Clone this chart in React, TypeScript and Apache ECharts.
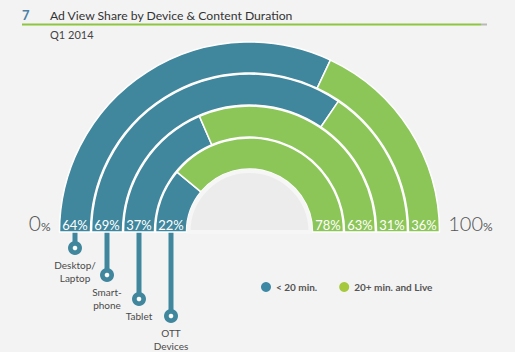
import React, { useEffect, useRef } from "react";
import * as echarts from "echarts";

// ---- data ----
const devices = ["Desktop/\nLaptop", "Smart-\nphone", "Tablet", "OTT\nDevices"];
const shortViews = [64, 69, 37, 22]; // < 20 min.
const longViews = [36, 31, 63, 78]; // 20+ min. and Live
const seriesNames = ["< 20 min.", "20+ min. and Live"];
const scaleEnds = ["0", "100"];
const titleNum = "7";
const titleText = "Ad View Share by Device & Content Duration";
const subtitle = "Q1 2014";

// ---- layout / style ----
const W = 515;
const H = 352;
const CX = 249.5;
const CY = 232;
const R_OUT = 190;
const RING_STEP = 32;
const RING_W = 31;
const MARKER_Y = [248, 275, 299, 316];
const BLUE = "#40879e";
const GREEN = "#8dc658";
const LEG_BLUE = "#3d89a5";
const LEG_GREEN = "#a6c83c";
const BG = "#f3f3f3";
const FONT = "Lato, 'Open Sans', sans-serif";

export default function App() {
  const ref = useRef<HTMLDivElement>(null);

  useEffect(() => {
    if (!ref.current) return;
    const chart = echarts.init(ref.current, undefined, { renderer: "svg" });

    const rings = devices.map((_, i) => {
      const outer = R_OUT - RING_STEP * i;
      const inner = outer - RING_W;
      return { outer, inner, mid: (outer + inner) / 2 };
    });

    const ringSeries: any[] = rings.map((r, i) => ({
      type: "pie",
      name: devices[i],
      center: [CX, CY],
      radius: [r.inner, r.outer],
      startAngle: 180,
      clockwise: true,
      silent: true,
      label: { show: false },
      labelLine: { show: false },
      emphasis: { disabled: true },
      data: [
        {
          name: seriesNames[0],
          value: shortViews[i],
          itemStyle: { color: BLUE, borderColor: "#ffffff", borderWidth: 1.5 },
        },
        {
          name: seriesNames[1],
          value: longViews[i],
          itemStyle: { color: GREEN, borderColor: "#ffffff", borderWidth: 1.5 },
        },
        {
          name: "rest",
          value: shortViews[i] + longViews[i],
          itemStyle: { color: "rgba(0,0,0,0)", borderWidth: 0 },
        },
      ],
    }));

    const disk = {
      type: "pie",
      center: [CX, CY],
      radius: [0, 61],
      startAngle: 180,
      silent: true,
      label: { show: false },
      labelLine: { show: false },
      emphasis: { disabled: true },
      data: [
        { name: "disk", value: 1, itemStyle: { color: "#ececec", borderColor: "#f6f6f6", borderWidth: 4 } },
        { name: "rest2", value: 1, itemStyle: { color: "rgba(0,0,0,0)", borderWidth: 0 } },
      ],
    };

    const graphics: any[] = [];
    // title
    graphics.push({
      type: "text",
      x: 22,
      y: 15,
      style: { text: titleNum, fill: "#4a80a6", font: `bold 13px ${FONT}`, verticalAlign: "middle" },
    });
    graphics.push({
      type: "text",
      x: 50,
      y: 15,
      style: { text: titleText, fill: "#333333", font: `12.2px ${FONT}`, verticalAlign: "middle" },
    });
    graphics.push({
      type: "line",
      shape: { x1: 22, y1: 24.5, x2: 481, y2: 24.5 },
      style: { stroke: "#8dc63f", lineWidth: 2 },
    });
    graphics.push({
      type: "line",
      shape: { x1: 481, y1: 24.5, x2: 487, y2: 24.5 },
      style: { stroke: "#b8b8b8", lineWidth: 2 },
    });
    graphics.push({
      type: "text",
      x: 50,
      y: 34.5,
      style: { text: subtitle, fill: "#444444", font: `11px ${FONT}`, verticalAlign: "middle" },
    });

    // scale end labels
    graphics.push({
      type: "text",
      x: 41,
      y: 233,
      style: { text: scaleEnds[0], fill: "#555555", font: `300 21px ${FONT}`, align: "right", verticalAlign: "bottom" },
    });
    graphics.push({
      type: "text",
      x: 41,
      y: 232,
      style: { text: "%", fill: "#555555", font: `12px ${FONT}`, align: "left", verticalAlign: "bottom" },
    });
    graphics.push({
      type: "text",
      x: 483,
      y: 233,
      style: { text: scaleEnds[1], fill: "#555555", font: `300 20px ${FONT}`, align: "right", verticalAlign: "bottom" },
    });
    graphics.push({
      type: "text",
      x: 483,
      y: 232,
      style: { text: "%", fill: "#555555", font: `12px ${FONT}`, align: "left", verticalAlign: "bottom" },
    });

    rings.forEach((r, i) => {
      const xl = CX - r.mid;
      const xr = CX + r.mid;
      graphics.push({
        type: "text",
        x: xl,
        y: 225,
        z: 10,
        style: { text: `${shortViews[i]}%`, fill: "#ffffff", font: `13px ${FONT}`, align: "center", verticalAlign: "middle" },
      });
      graphics.push({
        type: "text",
        x: xr,
        y: 225,
        z: 10,
        style: { text: `${longViews[i]}%`, fill: "#ffffff", font: `13px ${FONT}`, align: "center", verticalAlign: "middle" },
      });
      // stem
      graphics.push({
        type: "rect",
        shape: { x: xl - 2.5, y: CY - 1, width: 5, height: MARKER_Y[i] - CY + 1 },
        style: { fill: BLUE },
      });
      graphics.push({
        type: "circle",
        shape: { cx: xl, cy: MARKER_Y[i], r: 7 },
        style: { fill: BLUE },
      });
      graphics.push({
        type: "circle",
        shape: { cx: xl, cy: MARKER_Y[i], r: 2.3 },
        style: { fill: "#ffffff" },
      });
      graphics.push({
        type: "text",
        x: xl,
        y: MARKER_Y[i] + 11,
        style: {
          text: devices[i],
          fill: "#4a4a4a",
          font: `10px ${FONT}`,
          align: "center",
          verticalAlign: "top",
          lineHeight: 12.5,
        },
      });
    });

    chart.setOption({
      animation: false,
      backgroundColor: BG,
      legend: {
        data: [
          { name: seriesNames[0], itemStyle: { color: LEG_BLUE, borderWidth: 0 } },
          { name: seriesNames[1], itemStyle: { color: LEG_GREEN, borderWidth: 0 } },
        ],
        left: 256,
        top: 277,
        icon: "circle",
        itemWidth: 10,
        itemHeight: 10,
        itemGap: 22,
        selectedMode: false,
        textStyle: { fontSize: 10, fontWeight: "bold", color: "#555555", fontFamily: FONT },
      },
      series: [...ringSeries, disk],
      graphic: graphics,
    });

    return () => chart.dispose();
  }, []);

  return (
    <div
      ref={ref}
      style={{ position: "absolute", left: 0, top: 0, width: W, height: H }}
    />
  );
}
